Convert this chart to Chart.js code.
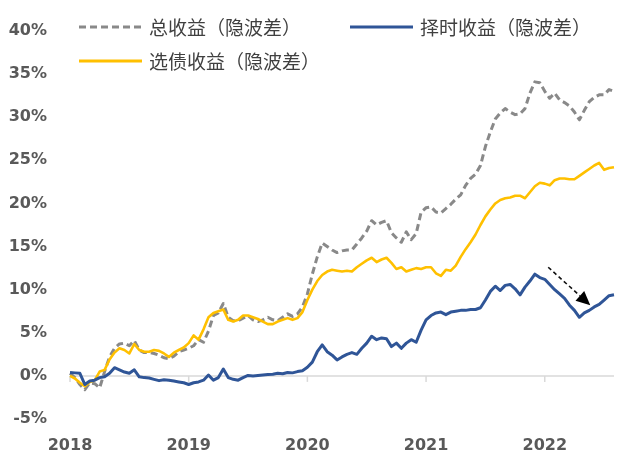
<!DOCTYPE html>
<html><head><meta charset="utf-8">
<script src="https://cdn.jsdelivr.net/npm/chart.js@4"></script>
<style>
body{margin:0;background:#fff;}
#wrap{position:relative;width:621px;height:459px;overflow:hidden;}
#c{position:absolute;left:0;top:0;}
.lg{position:absolute;font-family:"Noto Sans CJK SC";font-size:19px;color:#404040;line-height:24px;white-space:nowrap;}
.sw{position:absolute;}
</style></head><body>
<div id="wrap"><canvas id="c" width="621" height="459"></canvas></div>
<script>
// half-monthly observation dates
const dates = [
"2018-01-01","2018-01-16","2018-02-01","2018-02-16","2018-03-01","2018-03-16","2018-04-01","2018-04-16","2018-05-01","2018-05-16","2018-06-01","2018-06-16",
"2018-07-01","2018-07-16","2018-08-01","2018-08-16","2018-09-01","2018-09-16","2018-10-01","2018-10-16","2018-11-01","2018-11-16","2018-12-01","2018-12-16",
"2019-01-01","2019-01-16","2019-02-01","2019-02-16","2019-03-01","2019-03-16","2019-04-01","2019-04-16","2019-05-01","2019-05-16","2019-06-01","2019-06-16",
"2019-07-01","2019-07-16","2019-08-01","2019-08-16","2019-09-01","2019-09-16","2019-10-01","2019-10-16","2019-11-01","2019-11-16","2019-12-01","2019-12-16",
"2020-01-01","2020-01-16","2020-02-01","2020-02-16","2020-03-01","2020-03-16","2020-04-01","2020-04-16","2020-05-01","2020-05-16","2020-06-01","2020-06-16",
"2020-07-01","2020-07-16","2020-08-01","2020-08-16","2020-09-01","2020-09-16","2020-10-01","2020-10-16","2020-11-01","2020-11-16","2020-12-01","2020-12-16",
"2021-01-01","2021-01-16","2021-02-01","2021-02-16","2021-03-01","2021-03-16","2021-04-01","2021-04-16","2021-05-01","2021-05-16","2021-06-01","2021-06-16",
"2021-07-01","2021-07-16","2021-08-01","2021-08-16","2021-09-01","2021-09-16","2021-10-01","2021-10-16","2021-11-01","2021-11-16","2021-12-01","2021-12-16",
"2022-01-01","2022-01-16","2022-02-01","2022-02-16","2022-03-01","2022-03-16","2022-04-01","2022-04-16","2022-05-01","2022-05-16","2022-06-01","2022-06-16",
"2022-07-01","2022-07-16","2022-08-01"
];
const yearTicks = ["2018-01-01","2019-01-01","2020-01-01","2021-01-01","2022-01-01"];
const yTicks = [-5,0,5,10,15,20,25,30,35,40];

const seriesNames = ["总收益（隐波差）","择时收益（隐波差）","选债收益（隐波差）"];

// 总收益(隐波差) %
const totalReturn = [
0.3,-0.2,-1.0,-1.6,-0.8,-0.9,-1.4,0.5,2.2,3.2,3.7,3.8,3.5,4.1,3.0,2.7,2.7,2.6,2.4,2.1,2.0,2.3,2.8,3.0,
3.2,3.5,4.2,3.9,5.2,7.0,7.3,8.4,6.8,6.4,6.4,6.7,7.0,6.5,6.3,6.5,6.8,6.5,6.4,6.8,7.2,6.9,7.2,8.0,
9.5,11.8,13.8,15.4,15.0,14.6,14.3,14.5,14.6,14.6,15.3,16.0,16.8,18.0,17.5,17.8,18.0,16.6,16.0,15.5,16.7,15.8,16.5,19.0,
19.5,19.6,19.0,18.9,19.4,19.9,20.5,21.0,22.1,22.9,23.4,24.4,26.6,28.3,29.8,30.5,31.0,30.6,30.3,30.4,31.0,32.8,34.1,34.0,
33.0,32.2,32.8,32.0,31.7,31.3,30.6,29.7,30.8,31.8,32.3,32.6,32.6,33.2,33.0
];
// 择时收益(隐波差) %
const timingReturn = [
0.4,0.35,0.3,-1.0,-0.6,-0.5,-0.2,-0.1,0.3,0.95,0.7,0.45,0.3,0.7,-0.1,-0.2,-0.25,-0.4,-0.55,-0.45,-0.5,-0.6,-0.7,-0.8,
-1.0,-0.8,-0.7,-0.5,0.1,-0.5,-0.2,0.8,-0.2,-0.4,-0.5,-0.2,0.05,0.0,0.05,0.1,0.15,0.2,0.3,0.25,0.4,0.35,0.5,0.6,
1.0,1.6,2.8,3.6,2.8,2.4,1.85,2.2,2.5,2.7,2.5,3.2,3.8,4.6,4.2,4.4,4.3,3.4,3.8,3.2,3.8,4.2,3.9,5.3,
6.5,7.0,7.3,7.4,7.1,7.4,7.5,7.6,7.6,7.7,7.7,7.9,8.8,9.8,10.4,9.9,10.5,10.6,10.1,9.4,10.3,11.0,11.8,11.4,
11.2,10.6,10.0,9.5,9.0,8.2,7.6,6.8,7.3,7.6,8.0,8.3,8.8,9.3,9.4
];
// 选债收益(隐波差) %
const bondReturn = [
0.0,-0.3,-0.8,-1.2,-0.7,-0.5,0.5,0.7,1.9,2.7,3.2,3.0,2.6,3.7,3.0,2.8,2.8,3.0,2.9,2.6,2.2,2.7,3.0,3.3,
3.8,4.7,4.2,5.4,6.8,7.3,7.5,7.7,6.5,6.3,6.5,7.0,7.0,6.8,6.6,6.3,6.0,6.0,6.3,6.5,6.7,6.5,6.7,7.4,
8.8,10.0,11.0,11.7,12.1,12.3,12.2,12.1,12.2,12.1,12.6,13.0,13.4,13.7,13.2,13.5,13.7,13.1,12.4,12.6,12.1,12.3,12.5,12.4,
12.6,12.6,11.9,11.6,12.3,12.2,12.8,13.8,14.7,15.5,16.4,17.5,18.5,19.3,20.0,20.4,20.6,20.7,20.9,20.9,20.6,21.3,22.0,22.4,
22.3,22.1,22.7,22.9,22.9,22.8,22.8,23.2,23.6,24.0,24.4,24.7,23.9,24.1,24.2
];

// annotation arrow (x = position in dates, y = %)
const arrowFrom = [96.7, 12.6];
const arrowTo = [105.2, 8.2];

const colors = {total:'#898989', timing:'#2f5597', bond:'#ffc000'};

const keepYearTicks = s => { s.ticks = yearTicks.map(d => ({value: dates.indexOf(d)})); };

// zero axis line with year tick marks, placed through the scales
const zeroAxisPlugin = {
  id: 'zeroAxis',
  beforeDatasetsDraw(chart) {
    const {ctx, chartArea, scales} = chart;
    const y0 = scales.y.getPixelForValue(0);
    ctx.save();
    ctx.strokeStyle = '#d9d9d9'; ctx.lineWidth = 1.5;
    ctx.beginPath(); ctx.moveTo(chartArea.left, y0); ctx.lineTo(chartArea.right, y0); ctx.stroke();
    yearTicks.forEach(d => {
      const px = scales.x.getPixelForValue(dates.indexOf(d));
      ctx.beginPath(); ctx.moveTo(px, y0); ctx.lineTo(px, y0 + 6); ctx.stroke();
    });
    ctx.restore();
  }
};

const arrowPlugin = {
  id: 'arrow',
  afterDatasetsDraw(chart) {
    const {ctx, scales} = chart;
    const xs = scales.x, ys = scales.y;
    const x1 = xs.getPixelForValue(arrowFrom[0]), y1 = ys.getPixelForValue(arrowFrom[1]);
    const x2 = xs.getPixelForValue(arrowTo[0]), y2 = ys.getPixelForValue(arrowTo[1]);
    const ang = Math.atan2(y2 - y1, x2 - x1);
    const head = 14, hw = 6.5;
    const bx = x2 - head * Math.cos(ang), by = y2 - head * Math.sin(ang);
    ctx.save();
    ctx.strokeStyle = '#111'; ctx.lineWidth = 1.6; ctx.setLineDash([4, 3]);
    ctx.beginPath(); ctx.moveTo(x1, y1); ctx.lineTo(bx, by); ctx.stroke();
    ctx.setLineDash([]); ctx.fillStyle = '#000';
    ctx.beginPath(); ctx.moveTo(x2, y2);
    ctx.lineTo(bx + hw * Math.sin(ang), by - hw * Math.cos(ang));
    ctx.lineTo(bx - hw * Math.sin(ang), by + hw * Math.cos(ang));
    ctx.closePath(); ctx.fill();
    ctx.restore();
  }
};

const tickFont = {family: 'DejaVu Sans', size: 16, weight: 'bold'};

new Chart(document.getElementById('c'), {
  type: 'line',
  data: {
    labels: dates,
    datasets: [
      {label: seriesNames[0], data: totalReturn, borderColor: colors.total, borderWidth: 3, borderDash: [7, 4], order: 3},
      {label: seriesNames[1], data: timingReturn, borderColor: colors.timing, borderWidth: 3, order: 1},
      {label: seriesNames[2], data: bondReturn, borderColor: colors.bond, borderWidth: 2.6, order: 2}
    ]
  },
  options: {
    responsive: false,
    animation: false,
    devicePixelRatio: 1,
    layout: {padding: {top: 31, right: 7, bottom: 0, left: 0}},
    elements: {point: {radius: 0}, line: {tension: 0, borderJoinStyle: 'round', fill: false}},
    plugins: {legend: {display: false}, tooltip: {enabled: false}},
    scales: {
      x: {
        type: 'category',
        grid: {display: false},
        border: {display: false},
        afterBuildTicks: keepYearTicks,
        afterFit: s => { s.height = 40; },
        ticks: {autoSkip: false, maxRotation: 0, padding: 9, color: '#595959', font: tickFont,
          callback: (v) => dates[v].slice(0, 4)}
      },
      y: {
        min: yTicks[0], max: yTicks[yTicks.length - 1],
        grid: {display: false},
        border: {display: false},
        afterFit: s => { s.width = 70; },
        afterBuildTicks: s => { s.ticks = yTicks.map(v => ({value: v})); },
        ticks: {padding: 15, color: '#595959', font: tickFont, callback: v => v + '%'}
      }
    }
  },
  plugins: [zeroAxisPlugin, arrowPlugin]
});

// legend
const wrap = document.getElementById('wrap');
const legendItems = [
  {name: seriesNames[0], color: colors.total, dash: '7 4', x: 79, y: 27},
  {name: seriesNames[1], color: colors.timing, dash: null, x: 350, y: 27},
  {name: seriesNames[2], color: colors.bond, dash: null, x: 79, y: 61}
];
legendItems.forEach(it => {
  const svgNS = 'http://www.w3.org/2000/svg';
  const svg = document.createElementNS(svgNS, 'svg');
  svg.setAttribute('class', 'sw');
  svg.setAttribute('width', '64'); svg.setAttribute('height', '8');
  svg.style.left = it.x + 'px'; svg.style.top = (it.y - 4) + 'px';
  const ln = document.createElementNS(svgNS, 'line');
  ln.setAttribute('x1', '0'); ln.setAttribute('x2', '63'); ln.setAttribute('y1', '4'); ln.setAttribute('y2', '4');
  ln.setAttribute('stroke', it.color); ln.setAttribute('stroke-width', '3');
  if (it.dash) ln.setAttribute('stroke-dasharray', it.dash);
  svg.appendChild(ln);
  wrap.appendChild(svg);
  const t = document.createElement('div');
  t.className = 'lg';
  t.textContent = it.name;
  t.style.left = (it.x + 70) + 'px';
  t.style.top = (it.y - 12) + 'px';
  wrap.appendChild(t);
});
</script>
</body></html>
